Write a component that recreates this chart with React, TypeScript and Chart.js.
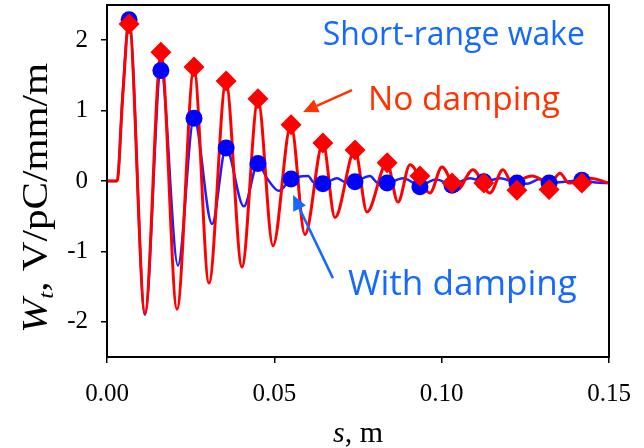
import { useEffect, useRef } from "react";
import { Chart, registerables } from "chart.js";

Chart.register(...registerables);

// ---- data ----
const redS = [
  0, 0.003, 0.0047, 0.00657, 0.01135, 0.01613, 0.02091, 0.02599, 0.03047, 0.03555,
  0.04033, 0.04512, 0.0496, 0.05497, 0.05916, 0.06453, 0.06812, 0.0741, 0.07768, 0.08366,
  0.08694, 0.09053, 0.0965, 0.10009, 0.10457, 0.10935, 0.11443, 0.11831, 0.121, 0.127,
  0.13236, 0.13535, 0.13804, 0.14431, 0.15,
];
const redW = [
  0, 0, 1.2, 2.25, -1.88, 1.8, -1.82, 1.6, -1.45, 1.4,
  -1.22, 1.15, -0.92, 0.8, -0.76, 0.54, -0.52, 0.44, -0.44, 0.26,
  -0.3, 0.23, -0.17, 0.2, -0.13, 0.16, -0.17, 0.16, -0.02, 0.07,
  -0.03, 0.11, -0.03, 0.04, -0.03,
];

const blueS = [
  0, 0.003, 0.0047, 0.00657, 0.01135, 0.01613, 0.0212, 0.02599, 0.0314, 0.03555,
  0.0409, 0.04512, 0.0478, 0.0514, 0.055, 0.0601, 0.0615, 0.0645, 0.0687, 0.0714,
  0.0741, 0.0786, 0.0807, 0.0837, 0.0884, 0.0935, 0.0983, 0.1031, 0.1085, 0.1126,
  0.1174, 0.1225, 0.1255, 0.1294, 0.1321, 0.1368, 0.1419, 0.1461, 0.15,
];
const blueW = [
  0, 0, 1.25, 2.29, -1.9, 1.57, -1.2, 0.89, -0.61, 0.47,
  -0.36, 0.25, 0.04, -0.14, 0.03, 0.07, -0.01, -0.04, 0.04, -0.02,
  -0.01, 0.07, -0.02, -0.03, 0.04, -0.06, 0.02, -0.05, 0.04, -0.01,
  0.04, -0.03, -0.04, 0.03, -0.03, -0.01, 0.01, -0.02, -0.03,
];

const peakS = [
  0.0066, 0.0161, 0.026, 0.0356, 0.0451, 0.055, 0.0645, 0.0741, 0.0837, 0.0935,
  0.1031, 0.1126, 0.1225, 0.1321, 0.1419,
];
const noDampPeakW = [
  2.23, 1.83, 1.62, 1.42, 1.17, 0.8, 0.54, 0.44, 0.26, 0.07,
  -0.03, -0.03, -0.13, -0.12, -0.03,
];
const dampPeakW = [
  2.29, 1.57, 0.89, 0.47, 0.25, 0.03, -0.04, -0.01, -0.03, -0.08,
  -0.06, -0.01, -0.03, -0.03, 0.01,
];

const xTicks = [0, 0.05, 0.1, 0.15];
const yTicks = [-2, -1, 0, 1, 2];

const RED = "#ff0000";
const BLUE = "#0000ff";
const TEXT_RED = "rgb(255,51,0)";
const TEXT_BLUE = "rgb(20,105,255)";

// annotation texts (anchored in data units)
const notes = [
  { text: "Short-range wake", s: 0.0645, w: 1.93, color: TEXT_BLUE, width: 262 },
  { text: "No damping", s: 0.078, w: 1.01, color: TEXT_RED, width: 192 },
  { text: "With damping", s: 0.072, w: -1.62, color: TEXT_BLUE, width: 229 },
];
const arrows = [
  { fromS: 0.0732, fromW: 1.29, toS: 0.0586, toW: 0.98, color: TEXT_RED },
  { fromS: 0.0675, fromW: -1.38, toS: 0.0556, toW: -0.2, color: TEXT_BLUE },
];

const SERIF = '"Liberation Serif", "Times New Roman", serif';
const SANS = '"Open Sans", "DejaVu Sans", sans-serif';

const decorPlugin = {
  id: "decor",
  afterDraw(chart: any) {
    const { ctx, chartArea } = chart;
    const xs = chart.scales.x;
    const ys = chart.scales.y;
    ctx.save();
    // frame
    ctx.strokeStyle = "#000";
    ctx.lineWidth = 2;
    ctx.strokeRect(chartArea.left, chartArea.top, chartArea.right - chartArea.left, chartArea.bottom - chartArea.top);

    // annotation texts
    ctx.textBaseline = "alphabetic";
    ctx.textAlign = "left";
    for (const n of notes) {
      ctx.font = `100px ${SANS}`;
      const w100 = ctx.measureText(n.text).width;
      const size = (100 * n.width) / w100;
      ctx.font = `${size}px ${SANS}`;
      ctx.fillStyle = n.color;
      ctx.fillText(n.text, xs.getPixelForValue(n.s), ys.getPixelForValue(n.w));
    }

    // arrows
    for (const a of arrows) {
      const x1 = xs.getPixelForValue(a.fromS);
      const y1 = ys.getPixelForValue(a.fromW);
      const x2 = xs.getPixelForValue(a.toS);
      const y2 = ys.getPixelForValue(a.toW);
      const ang = Math.atan2(y2 - y1, x2 - x1);
      const hl = 15;
      const hw = 7;
      const bx = x2 - hl * Math.cos(ang);
      const by = y2 - hl * Math.sin(ang);
      ctx.strokeStyle = a.color;
      ctx.fillStyle = a.color;
      ctx.lineWidth = 2.5;
      ctx.beginPath();
      ctx.moveTo(x1, y1);
      ctx.lineTo(bx, by);
      ctx.stroke();
      ctx.beginPath();
      ctx.moveTo(x2, y2);
      ctx.lineTo(bx + hw * Math.sin(ang), by - hw * Math.cos(ang));
      ctx.lineTo(bx - hw * Math.sin(ang), by + hw * Math.cos(ang));
      ctx.closePath();
      ctx.fill();
    }

    // x axis title: "s, m"
    ctx.fillStyle = "#000";
    ctx.textBaseline = "alphabetic";
    const fx = 30;
    ctx.font = `italic ${fx}px ${SERIF}`;
    const wS = ctx.measureText("s").width;
    ctx.font = `${fx}px ${SERIF}`;
    const wRest = ctx.measureText(", m").width;
    const cx = (chartArea.left + chartArea.right) / 2;
    const x0 = cx - (wS + wRest) / 2;
    ctx.font = `italic ${fx}px ${SERIF}`;
    ctx.fillText("s", x0, 442);
    ctx.font = `${fx}px ${SERIF}`;
    ctx.fillText(", m", x0 + wS, 442);

    // y axis title: "W_t, V/pC/mm/m" rotated
    const fy = 36;
    ctx.font = `italic ${fy}px ${SERIF}`;
    const wW = ctx.measureText("W").width;
    ctx.font = `italic ${fy * 0.6}px ${SERIF}`;
    const wt = ctx.measureText("t").width;
    ctx.font = `${fy}px ${SERIF}`;
    const rest = ", V/pC/mm/m";
    const wr = ctx.measureText(rest).width;
    const total = wW + wt + wr;
    const target = 270;
    const k = target / total;
    const cy = 198;
    ctx.translate(47, cy);
    ctx.rotate(-Math.PI / 2);
    ctx.scale(k, 1);
    let px = -total / 2;
    ctx.font = `italic ${fy}px ${SERIF}`;
    ctx.fillText("W", px, 0);
    px += wW;
    ctx.font = `italic ${fy * 0.6}px ${SERIF}`;
    ctx.fillText("t", px, 6);
    px += wt;
    ctx.font = `${fy}px ${SERIF}`;
    ctx.fillText(rest, px, 0);
    ctx.restore();
  },
};

export default function App() {
  const ref = useRef<HTMLCanvasElement | null>(null);

  useEffect(() => {
    document.body.style.margin = "0";
    const canvas = ref.current;
    if (!canvas) return;
    const chart = new Chart(canvas, {
      type: "scatter",
      data: {
        datasets: [
          {
            label: "No damping peaks",
            data: peakS.map((s, i) => ({ x: s, y: noDampPeakW[i] })),
            pointStyle: "rectRot",
            pointRadius: 10.5,
            pointHoverRadius: 10.5,
            backgroundColor: RED,
            borderWidth: 0,
            order: 0,
          },
          {
            label: "With damping peaks",
            data: peakS.map((s, i) => ({ x: s, y: dampPeakW[i] })),
            pointStyle: "circle",
            pointRadius: 8.5,
            pointHoverRadius: 8.5,
            backgroundColor: BLUE,
            borderWidth: 0,
            order: 1,
          },
          {
            label: "No damping",
            data: redS.map((s, i) => ({ x: s, y: redW[i] })),
            showLine: true,
            pointRadius: 0,
            pointHoverRadius: 0,
            borderColor: RED,
            borderWidth: 3,
            cubicInterpolationMode: "monotone",
            order: 2,
          },
          {
            label: "With damping",
            data: blueS.map((s, i) => ({ x: s, y: blueW[i] })),
            showLine: true,
            pointRadius: 0,
            pointHoverRadius: 0,
            borderColor: "#1e1eff",
            borderWidth: 2.5,
            cubicInterpolationMode: "monotone",
            order: 3,
          },
        ],
      } as any,
      options: {
        animation: false,
        responsive: false,
        devicePixelRatio: 1,
        events: [],
        layout: { autoPadding: false, padding: { left: 0, right: 35, top: 5, bottom: 0 } },
        plugins: { legend: { display: false }, tooltip: { enabled: false } },
        scales: {
          x: {
            type: "linear",
            min: 0,
            max: 0.15,
            afterBuildTicks: (scale: any) => {
              scale.ticks = xTicks.map((value) => ({ value }));
            },
            afterFit: (scale: any) => {
              scale.height = 91;
              scale.paddingLeft = 0;
              scale.paddingRight = 0;
            },
            ticks: {
              callback: (v: any) => Number(v).toFixed(2),
              color: "#000",
              font: { family: SERIF, size: 25 },
              padding: 16,
              maxRotation: 0,
            },
            grid: { drawOnChartArea: false, drawTicks: true, tickLength: 6, color: "#000", lineWidth: 1.5 },
            border: { display: true, color: "#000", width: 2 },
          },
          y: {
            type: "linear",
            min: -2.5,
            max: 2.5,
            afterBuildTicks: (scale: any) => {
              scale.ticks = yTicks.map((value) => ({ value }));
            },
            afterFit: (scale: any) => {
              scale.width = 107;
              scale.paddingTop = 0;
              scale.paddingBottom = 0;
            },
            ticks: {
              callback: (v: any) => String(v),
              color: "#000",
              font: { family: SERIF, size: 25 },
              padding: 13,
            },
            grid: { drawOnChartArea: false, drawTicks: true, tickLength: 6, color: "#000", lineWidth: 1.5 },
            border: { display: true, color: "#000", width: 2 },
          },
        },
      } as any,
      plugins: [decorPlugin],
    });
    return () => chart.destroy();
  }, []);

  return <canvas ref={ref} width={644} height={448} style={{ display: "block" }} />;
}
